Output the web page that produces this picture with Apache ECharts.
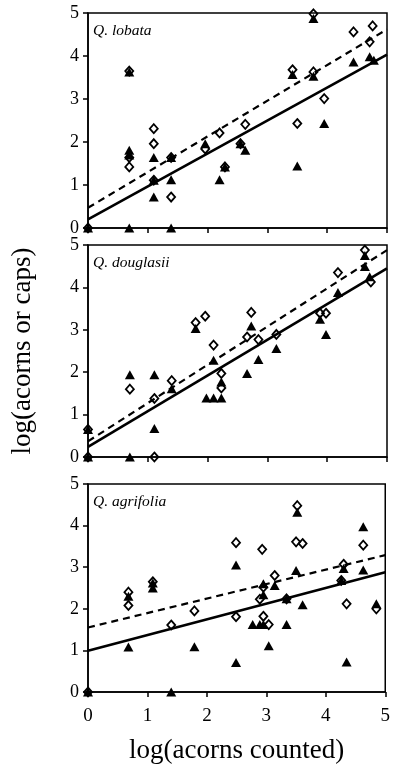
<!DOCTYPE html>
<html><head><meta charset="utf-8">
<script src="https://cdn.jsdelivr.net/npm/echarts@6/dist/echarts.min.js"></script>
<style>html,body{margin:0;padding:0;background:#fff}#c{width:393px;height:765px}</style>
</head><body><div id="c"></div>
<script>
// ---- data ----
var panelNames = ['Q. lobata', 'Q. douglasii', 'Q. agrifolia'];
var xTicks = [0, 1, 2, 3, 4, 5];
var yTicks = [0, 1, 2, 3, 4, 5];

var lobataTri = [[0,0],[0.69,3.63],[0.69,1.81],[0.69,1.70],[0.69,0],[1.10,1.64],[1.10,1.11],[1.10,0.72],[1.39,1.64],[1.39,1.12],[1.39,0],[1.96,1.96],[2.20,1.12],[2.29,1.42],[2.55,1.96],[2.63,1.81],[3.42,3.57],[3.50,1.44],[3.77,4.87],[3.77,3.53],[3.95,2.43],[4.44,3.86],[4.71,3.98],[4.78,3.90]];
var lobataDia = [[0,0],[0.69,3.65],[0.69,1.64],[0.69,1.42],[1.10,2.31],[1.10,1.96],[1.10,1.11],[1.39,1.64],[1.39,0.72],[1.96,1.84],[2.20,2.21],[2.29,1.42],[2.55,1.96],[2.63,2.41],[3.42,3.68],[3.50,2.43],[3.77,4.98],[3.77,3.63],[3.95,3.01],[4.44,4.56],[4.71,4.33],[4.76,4.70]];
var lobataSolid = [[0,0.20],[5,4.03]];
var lobataDashed = [[0,0.47],[5,4.62]];

var douglasiiTri = [[0,0.65],[0,0],[0.70,1.94],[0.70,0],[1.11,1.94],[1.11,0.67],[1.40,1.61],[1.80,3.03],[1.98,1.39],[2.10,2.28],[2.10,1.39],[2.23,1.39],[2.23,1.77],[2.66,1.97],[2.73,3.09],[2.85,2.30],[3.15,2.56],[3.88,3.25],[3.98,2.89],[4.18,3.88],[4.63,4.75],[4.63,4.49],[4.71,4.25]];
var douglasiiDia = [[0,0.65],[0,0],[0.70,1.60],[1.11,1.38],[1.11,0],[1.40,1.80],[1.80,3.17],[1.96,3.32],[2.10,2.64],[2.23,1.97],[2.23,1.63],[2.66,2.83],[2.73,3.41],[2.85,2.77],[3.15,2.89],[3.88,3.39],[3.98,3.39],[4.18,4.35],[4.63,4.88],[4.73,4.13]];
var douglasiiSolid = [[0,0.24],[5,4.45]];
var douglasiiDashed = [[0,0.37],[5,4.88]];

var agrifoliaTri = [[0,0],[0.68,2.30],[0.68,1.08],[1.09,2.62],[1.09,2.50],[1.40,0],[1.79,1.09],[2.49,3.05],[2.49,0.71],[2.77,1.62],[2.89,1.62],[2.95,2.60],[2.95,2.34],[2.95,1.62],[3.04,1.11],[3.14,2.56],[3.34,2.24],[3.34,1.62],[3.52,4.32],[3.50,2.92],[3.61,2.10],[4.26,2.68],[4.30,2.97],[4.35,0.72],[4.63,3.97],[4.63,2.93],[4.85,2.12]];
var agrifoliaDia = [[0,0],[0.68,2.40],[0.68,2.08],[1.09,2.65],[1.40,1.61],[1.79,1.95],[2.49,3.59],[2.49,1.81],[2.89,2.23],[2.93,3.43],[2.95,2.52],[2.95,1.82],[3.04,1.62],[3.14,2.80],[3.34,2.24],[3.52,4.48],[3.50,3.61],[3.61,3.57],[4.26,2.68],[4.30,3.07],[4.35,2.12],[4.63,3.53],[4.85,2.00]];
var agrifoliaSolid = [[0,0.99],[5,2.88]];
var agrifoliaDashed = [[0,1.55],[5,3.29]];

var panels = [
  {tri: lobataTri, dia: lobataDia, solid: lobataSolid, dashed: lobataDashed},
  {tri: douglasiiTri, dia: douglasiiDia, solid: douglasiiSolid, dashed: douglasiiDashed},
  {tri: agrifoliaTri, dia: agrifoliaDia, solid: agrifoliaSolid, dashed: agrifoliaDashed}
];

// ---- layout ----
var FONT = '"Liberation Serif","Times New Roman",serif';
var gridTops = [13, 245, 484];
var gridHeights = [215, 212, 210];

var grids = [], xAxes = [], yAxes = [], series = [], graphics = [];
panels.forEach(function (p, i) {
  grids.push({left: 88, right: 6, top: gridTops[i], height: gridHeights[i],
    show: true, borderColor: '#000', borderWidth: 1.5, backgroundColor: 'transparent'});
  var last = i === panels.length - 1;
  xAxes.push({gridIndex: i, type: 'value', min: xTicks[0], max: xTicks[xTicks.length - 1], interval: 1,
    axisLine: {show: true, onZero: false, lineStyle: {color: '#000', width: 1.5}},
    axisTick: {show: true, inside: false, length: 5, lineStyle: {color: '#000', width: 1.5}},
    axisLabel: {show: last, color: '#000', fontFamily: FONT, fontSize: 19, margin: 15},
    splitLine: {show: false},
    name: last ? 'log(acorns counted)' : '', nameLocation: 'middle', nameGap: 45,
    nameTextStyle: {color: '#000', fontFamily: FONT, fontSize: 27}
  });
  yAxes.push({gridIndex: i, type: 'value', min: yTicks[0], max: yTicks[yTicks.length - 1], interval: 1,
    axisLine: {show: true, onZero: false, lineStyle: {color: '#000', width: 1.5}},
    axisTick: {show: true, inside: false, length: 5, lineStyle: {color: '#000', width: 1.5}},
    axisLabel: {show: true, color: '#000', fontFamily: FONT, fontSize: 18, margin: 9},
    splitLine: {show: false},
    name: i === 1 ? 'log(acorns or caps)' : '', nameLocation: 'middle', nameGap: 52,
    nameTextStyle: {color: '#000', fontFamily: FONT, fontSize: 27}
  });
  series.push({type: 'line', xAxisIndex: i, yAxisIndex: i, data: p.dashed, symbol: 'none', silent: true,
    lineStyle: {color: '#000', width: 2.2, type: [7, 5]}, z: 2});
  series.push({type: 'line', xAxisIndex: i, yAxisIndex: i, data: p.solid, symbol: 'none', silent: true,
    lineStyle: {color: '#000', width: 2.6}, z: 2});
  series.push({type: 'scatter', xAxisIndex: i, yAxisIndex: i, data: p.dia, symbol: 'diamond', symbolSize: [8, 9],
    clip: false, itemStyle: {color: 'rgba(255,255,255,0)', borderColor: '#000', borderWidth: 1.8, opacity: 1}, z: 3});
  series.push({type: 'scatter', xAxisIndex: i, yAxisIndex: i, data: p.tri, symbol: 'triangle', symbolSize: [10, 9],
    clip: false, itemStyle: {color: '#000', opacity: 1}, z: 4});
  graphics.push({type: 'text', left: 93, top: gridTops[i] + 10,
    style: {text: panelNames[i], fill: '#000', font: 'italic 15.5px ' + FONT}});
});

var chart = echarts.init(document.getElementById('c'), null, {renderer: 'canvas'});
chart.setOption({
  animation: false,
  backgroundColor: '#fff',
  grid: grids, xAxis: xAxes, yAxis: yAxes, series: series, graphic: graphics
});
</script></body></html>
